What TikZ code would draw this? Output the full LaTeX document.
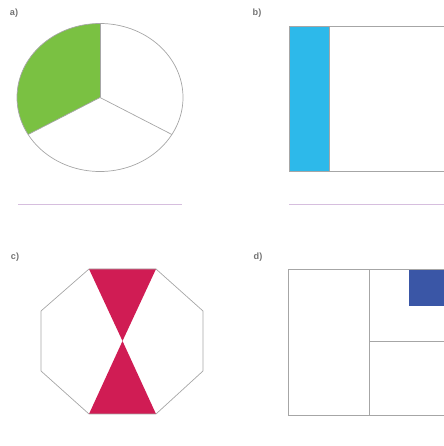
\documentclass[tikz,border=0pt]{standalone}
\usepackage{fontspec}
\setsansfont{Liberation Sans}
\definecolor{piegreen}{RGB}{122,193,66}
\definecolor{barblue}{RGB}{45,185,234}
\definecolor{bowred}{RGB}{208,28,84}
\definecolor{sqblue}{RGB}{58,86,166}
\definecolor{linelilac}{RGB}{214,190,222}
\begin{document}
\begin{tikzpicture}[x=0.5mm,y=0.5mm,
    outline/.style={draw=black!35,line width=1pt,line join=miter},
    answer/.style={draw=linelilac,line width=1.3pt},
    tag/.style={font=\sffamily\bfseries\fontsize{13}{15}\selectfont,text=black!55}]
      \useasboundingbox (0,0) rectangle (444,446);
      \clip (0,0) rectangle (444,446);
      % a) circle in thirds
      \node[tag] (lbla) at (14,433) {a)};
      \fill[piegreen] (100,348.5) -- (100,422.5) arc[start angle=90,end angle=210,x radius=83,y radius=74] -- cycle;
      \draw[outline] (100,348.5) ellipse[x radius=83,y radius=74];
      \draw[outline] (100,348.5) -- ++(90:83 and 74);
      \draw[outline] (100,348.5) -- ++(210:83 and 74);
      \draw[outline] (100,348.5) -- ++(330:83 and 74);
      \draw[answer] (18,242) -- (182,242);
      % b) bar
      \node[tag] (lblb) at (257,433) {b)};
      \fill[barblue] (289,275) rectangle (329,420);
      \draw[outline] (289,275) rectangle (460,420);
      \draw[outline] (329,275) -- (329,420);
      \draw[answer] (289,242) -- (460,242);
      % c) octagon
      \node[tag] (lblc) at (15,189) {c)};
      \fill[bowred] (89,177) -- (156,177) -- (122.5,105) -- cycle;
      \fill[bowred] (89,32) -- (156,32) -- (122.5,105) -- cycle;
      \draw[outline] (89,177) -- (156,177) -- (203,135) -- (203,75) -- (156,32)
        -- (89,32) -- (41,75) -- (41,135) -- cycle;
      % d) squares
      \node[tag] (lbld) at (258,189) {d)};
      \fill[sqblue] (409,140) rectangle (460,177);
      \draw[outline] (288,31) rectangle (460,177);
      \draw[outline] (369,31) -- (369,177);
      \draw[outline] (369,105) -- (460,105);
\end{tikzpicture}
\end{document}
